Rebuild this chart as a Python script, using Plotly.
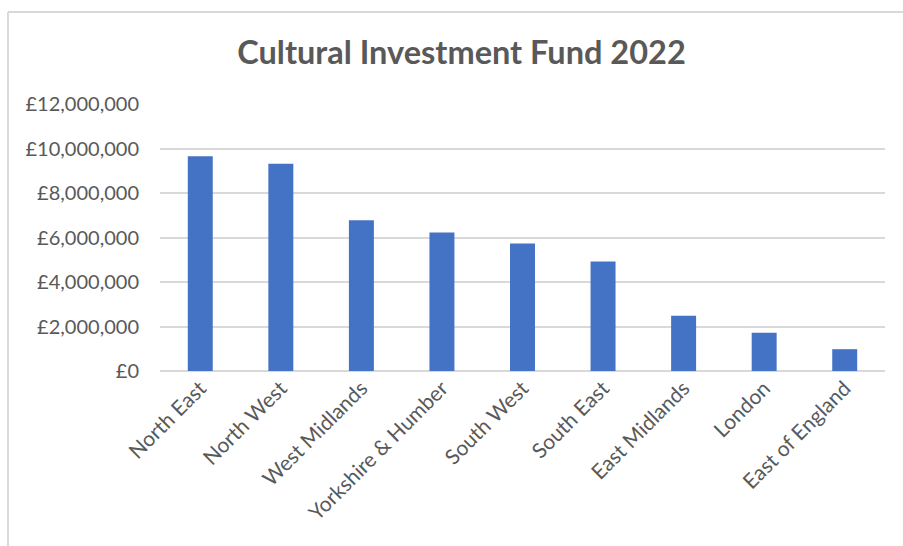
import plotly.graph_objects as go

regions = ["North East", "North West", "West Midlands", "Yorkshire & Humber",
           "South West", "South East", "East Midlands", "London", "East of England"]
funding = [9650000, 9320000, 6770000, 6230000, 5730000, 4920000, 2480000, 1720000, 980000]
tick_vals = [0, 2000000, 4000000, 6000000, 8000000, 10000000, 12000000]
tick_text = ["£0", "£2,000,000", "£4,000,000", "£6,000,000", "£8,000,000", "£10,000,000", "£12,000,000"]

W, H = 903, 546
L, R, T, B = 160, 18, 104, 175
PW, PH = W - L - R, H - T - B


def px(x):
    return (x - L) / PW


def py(y):
    return (H - B - y) / PH


fig = go.Figure(go.Bar(x=regions, y=funding, marker=dict(color="#4472C4", line=dict(width=0))))

fig.update_layout(
    width=W, height=H,
    margin=dict(l=L, r=R, t=T, b=B),
    paper_bgcolor="white", plot_bgcolor="white",
    bargap=0.69,
    showlegend=False,
    font=dict(family="Lato", color="#595959"),
    title=dict(text="Cultural Investment Fund 2022", xref="container", yref="container",
               x=461.5 / W, y=1 - 53 / H, xanchor="center", yanchor="middle",
               font=dict(family="Lato", size=32.5, color="#595959", weight="bold")),
    xaxis=dict(tickangle=-45, tickfont=dict(size=21, color="#595959"), showgrid=False,
               showline=False, ticks=""),
    yaxis=dict(range=[0, 12000000], tickvals=tick_vals, ticktext=tick_text,
               tickfont=dict(size=20, color="#595959"), showgrid=True, gridcolor="#d9d9d9",
               gridwidth=1.5, zeroline=True, zerolinecolor="#d9d9d9", zerolinewidth=1.5,
               showline=False, ticks="", ticklabelstandoff=20),
    shapes=[
        dict(type="line", xref="paper", yref="paper",
             x0=px(8), x1=px(W + 10), y0=py(12), y1=py(12),
             line=dict(color="#d9d9d9", width=2)),
        dict(type="line", xref="paper", yref="paper",
             x0=px(8), x1=px(8), y0=py(12), y1=py(H + 10),
             line=dict(color="#d9d9d9", width=2)),
    ],
)

fig.write_html(
    "out.html",
    config={"displayModeBar": False},
    post_script="document.body.style.margin='0';document.documentElement.style.overflow='hidden';",
)
